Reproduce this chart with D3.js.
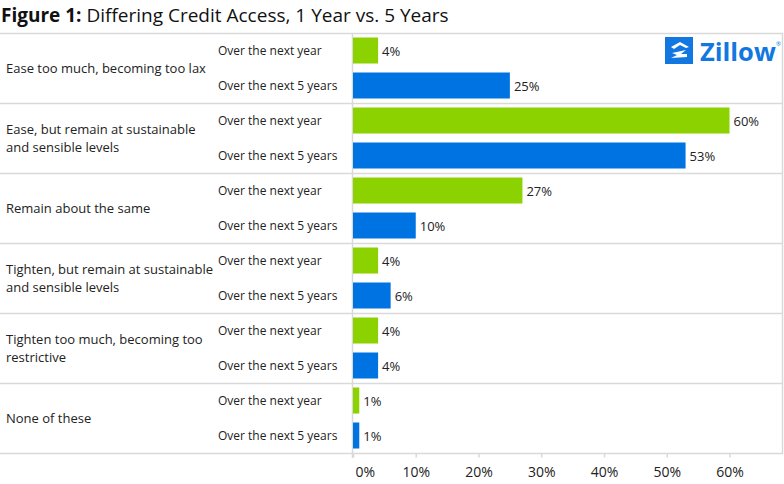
<!DOCTYPE html>
<html>
<head>
<meta charset="utf-8">
<script src="https://cdn.jsdelivr.net/npm/d3@7"></script>
<style>
  html, body { margin: 0; padding: 0; background: #fff; }
  svg { display: block; font-family: "Open Sans", "Noto Sans", sans-serif; }
</style>
</head>
<body>
<svg id="chart" width="784" height="484"></svg>
<script>
const categories = [
  "Ease too much, becoming too lax",
  "Ease, but remain at sustainable\nand sensible levels",
  "Remain about the same",
  "Tighten, but remain at sustainable\nand sensible levels",
  "Tighten too much, becoming too\nrestrictive",
  "None of these"
];
const seriesNames = ["Over the next year", "Over the next 5 years"];
const nextYear = [4, 60, 27, 4, 4, 1];
const next5Years = [25, 53, 10, 6, 4, 1];
const tickValues = [0, 10, 20, 30, 40, 50, 60];
const colors = ["#8bd200", "#0073e3"];

(function () {
const svg = d3.select("#chart");
const plotLeft = 353, plotRight = 782, plotTop = 33, plotBottom = 453;
const gridColor = "#d9d9d9";

const x = d3.scaleLinear().domain([0, 60]).range([plotLeft, 729.5]);
const y0 = d3.scaleBand().domain(d3.range(categories.length)).range([plotTop, plotBottom]);
const y1 = d3.scaleBand().domain([0, 1]).range([0, y0.bandwidth()])
  .paddingInner(0.257).paddingOuter(0.1285);

// Title
const title = svg.append("text").attr("x", 1).attr("y", 22)
  .attr("font-size", 19).attr("fill", "#111");
title.append("tspan").attr("font-weight", "bold").text("Figure 1:");
title.append("tspan").text(" Differing Credit Access, 1 Year vs. 5 Years");

// Horizontal row separators
const seps = d3.range(categories.length + 1).map(i => i < categories.length ? y0(i) : plotBottom);
svg.append("g").selectAll("line").data(seps).join("line")
  .attr("x1", 0).attr("x2", plotRight + 1)
  .attr("y1", d => d + 0.5).attr("y2", d => d + 0.5)
  .attr("stroke", gridColor).attr("stroke-width", 1.5);

// Vertical lines
svg.append("line").attr("x1", plotLeft - 0.5).attr("x2", plotLeft - 0.5)
  .attr("y1", plotTop).attr("y2", plotBottom + 5).attr("stroke", gridColor).attr("stroke-width", 1.5);
svg.append("line").attr("x1", plotRight + 0.5).attr("x2", plotRight + 0.5)
  .attr("y1", plotTop).attr("y2", plotBottom + 1).attr("stroke", gridColor).attr("stroke-width", 1.5);

// Axis
const axis = d3.axisBottom(x).tickValues(tickValues).tickFormat(d => d + "%").tickSize(4).tickPadding(10);
const ax = svg.append("g").attr("transform", `translate(0,${plotBottom + 0.5})`).call(axis);
ax.select(".domain").remove();
ax.selectAll(".tick line").attr("stroke", gridColor).attr("stroke-width", 1.5);
ax.selectAll(".tick text").attr("font-size", 14).attr("fill", "#222")
  .attr("font-family", "\"Open Sans\", sans-serif");
ax.selectAll(".tick text").filter(d => d === 0).attr("text-anchor", "start").attr("dx", 2);

// Groups
const groups = svg.append("g").selectAll("g").data(categories).join("g")
  .attr("transform", (d, i) => `translate(0,${y0(i)})`);

// Category labels
groups.each(function(d) {
  const lines = d.split("\n");
  const g = d3.select(this);
  const c = y0.bandwidth() / 2;
  const t = g.append("text").attr("font-size", 13).attr("fill", "#222");
  lines.forEach((ln, j) => {
    t.append("tspan").attr("x", 6)
      .attr("y", c + 5 + (j - (lines.length - 1) / 2) * 17.5).text(ln);
  });
});

// Sub labels, bars, value labels
groups.each(function(d, i) {
  const g = d3.select(this);
  const vals = [nextYear[i], next5Years[i]];
  vals.forEach((v, s) => {
    const yy = y1(s);
    const cy = yy + y1.bandwidth() / 2;
    g.append("text").attr("x", 218).attr("y", cy + 4.5)
      .attr("font-size", 12).attr("fill", "#222").text(seriesNames[s]);
    g.append("rect").attr("x", x(0)).attr("y", yy)
      .attr("width", x(v) - x(0)).attr("height", y1.bandwidth())
      .attr("fill", colors[s]);
    g.append("text").attr("x", x(v) + 4).attr("y", cy + 5)
      .attr("font-size", 13).attr("fill", "#222").text(v + "%");
  });
});

// Zillow logo
const logo = svg.append("g");
logo.append("rect").attr("x", 665).attr("y", 37).attr("width", 28).attr("height", 27).attr("fill", "#1277e1");
logo.append("path")
  .attr("d", "M671,47 L680,42 L689,47 L686,48 L680,45 L674,49 Z M672,53 L686,50 L681,54 L687,54 L687,57 L671,58 L677,55 Z")
  .attr("fill", "#fff");
logo.append("text").attr("x", 700).attr("y", 61).attr("font-size", 25.5).attr("font-weight", "bold")
  .attr("fill", "#1277e1").attr("font-family", "\"Open Sans\", sans-serif").text("Zillow");
logo.append("text").attr("x", 776).attr("y", 46).attr("font-size", 6)
  .attr("fill", "#1277e1").text("®");
})();
</script>
</body>
</html>
